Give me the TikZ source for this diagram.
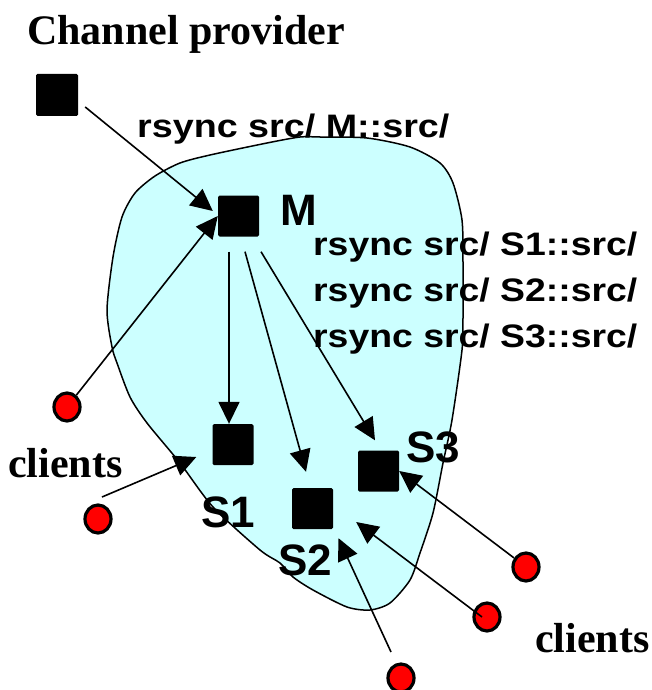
\documentclass[tikz,border=0pt]{standalone}
\usepackage{fontspec}
\setmainfont{Liberation Serif}
\newfontfamily\labelfont{Liberation Sans}
\usetikzlibrary{arrows.meta,calc,shapes.geometric}
\definecolor{blobfill}{HTML}{CCFFFF}
\definecolor{clientred}{HTML}{FF0000}
\begin{document}
\begin{tikzpicture}[x=1pt,y=-1pt,
  sq/.style={fill=black, draw=none, rounded corners=1.5pt, minimum size=41pt, inner sep=0pt},
  cl/.style={ellipse, draw=black, line width=3.2pt, fill=clientred, minimum width=26pt, minimum height=28pt, inner sep=0pt},
  arr/.style={line width=1.6pt, -{Triangle[length=22pt,width=21pt]}},
  serif/.style={font=\bfseries\fontsize{42}{48}\selectfont, inner sep=0pt, anchor=base west},
  big/.style={font=\labelfont\bfseries\fontsize{44}{50}\selectfont, inner sep=0pt, anchor=base west},
  cmd/.style={font=\labelfont\bfseries\fontsize{32.5}{38}\selectfont, inner sep=0pt, anchor=base west}]
\useasboundingbox (0,0) rectangle (652,690);

% the server group
\draw[line width=1.5pt, fill=blobfill] plot[smooth cycle, tension=0.45] coordinates {
  (155,176) (180,163) (210,155) (267,143) (300,137) (320,137) (367,138)
  (410,147) (440,163) (453,183) (462,220) (463,263) (463,317) (462,350)
  (452,420) (443,463) (433,513) (420,553) (410,580) (390,603) (370,610)
  (347,607) (313,590) (293,577) (280,563) (260,550) (213,507) (180,463)
  (147,423) (130,397) (117,363) (112,347) (107,310) (113,257) (122,217)
  (135,193)};

% texts
\node[serif] (title) at (27,45) {Channel provider};
\node[serif] (cleft) at (8,477) {clients};
\node[serif] (cright) at (535,652) {clients};
\node[cmd] (cmdM) at (137,137) {\scalebox{1.16}[1]{rsync src/ M::src/}};
\node[cmd] (cmdA) at (313,255) {\scalebox{1.15}[1]{rsync src/ S1::src/}};
\node[cmd] (cmdB) at (313,301) {\scalebox{1.15}[1]{rsync src/ S2::src/}};
\node[cmd] (cmdC) at (313,347) {\scalebox{1.15}[1]{rsync src/ S3::src/}};
\node[big] (lM) at (280,225) {M};
\node[big] (lS1) at (201,527) {S1};
\node[big] (lS2) at (278,575) {S2};
\node[big] (lS3) at (406,462) {S3};

% machines
\node[sq, minimum size=42pt] (P) at (57,95) {};
\node[sq] (M) at (238.5,216) {};
\node[sq] (S1) at (233,444.5) {};
\node[sq] (S2) at (312.5,508.5) {};
\node[sq] (S3) at (378.5,471) {};

% clients
\node[cl] (c1) at (67,407) {};
\node[cl] (c2) at (98,519) {};
\node[cl] (c3) at (526,567) {};
\node[cl] (c4) at (487,617) {};
\node[cl] (c5) at (401,678) {};

% provider to master
\draw[arr] ($(P.east)+(7,12)$) -- ($(M.west)+(-5,-5)$);
% master to mirrors
\coordinate (m1) at ($(M.south)+(-9.5,15)$);
\draw[arr] (m1) -- (m1 |- S1.north);
\draw[arr] ($(M.south)+(6.5,15)$) -- ($(S2.north)+(-6.5,-16)$);
\draw[arr] ($(M.south)+(22.5,15)$) -- ($(S3.north)+(-3.5,-10)$);
% clients to servers
\draw[arr] (c1) -- (M.west);
\draw[arr] ($(c2)+(4,-22)$) -- ($(S1.west)+(-16,12.5)$);
\draw[arr] (c3) -- (S3.east);
\draw[arr] ($(c4.center)+(-5,0)$) -- ($(S2.east)+(23,13.5)$);
\draw[arr] ($(c5)+(-10,-26)$) -- ($(S2.south)+(26,9)$);
\end{tikzpicture}
\end{document}
